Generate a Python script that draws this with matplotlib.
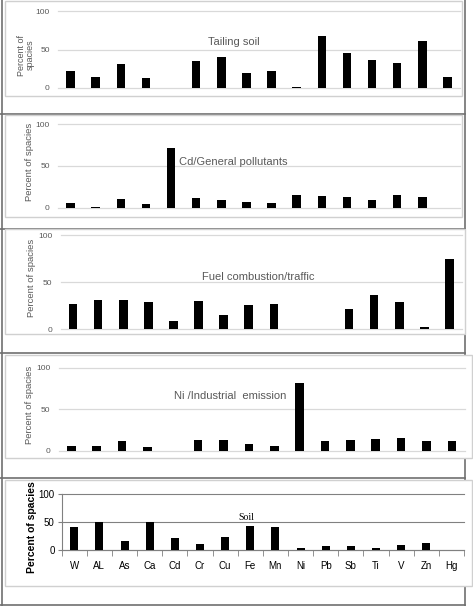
from matplotlib import pyplot as plt
from matplotlib.patches import Rectangle
from matplotlib.lines import Line2D

plt.rcParams['font.family'] = ['Liberation Sans', 'DejaVu Sans']

elements = ['W', 'AL', 'As', 'Ca', 'Cd', 'Cr', 'Cu', 'Fe', 'Mn',
            'Ni', 'Pb', 'Sb', 'Ti', 'V', 'Zn', 'Hg']

tailing_soil = [22, 14, 31.5, 13, 0, 35, 40, 19.5, 22, 1.3, 67, 46, 37, 32.5, 61, 14]
general_pollutants = [5.6, 0.8, 10, 4.8, 71.6, 11.6, 9.2, 6.4, 5.6, 14.8, 13.6, 12.8, 9.2, 14.8, 12.8, 0]
fuel_traffic = [27, 30.9, 30.9, 28.7, 8.5, 30.1, 15.2, 25.5, 27, 0, 0, 21.6, 36.5, 29, 2.5, 75.2]
industrial = [5.6, 5.2, 12, 4, 0, 12.9, 12.9, 7.6, 5.2, 81, 12, 13.3, 13.7, 15.7, 11.2, 12]
soil = [40.7, 50.3, 16.8, 50.3, 21, 11.4, 24, 43, 42, 3.6, 7.8, 7.2, 4.2, 9, 13.2, 0]

W, H = 473, 606
fig = plt.figure(figsize=(W / 100, H / 100), dpi=100)


def px_rect(x0, y0, x1, y1):
    """Pixel box (top-left origin) -> figure fraction rect."""
    return [x0 / W, 1 - y1 / H, (x1 - x0) / W, (y1 - y0) / H]


def fig_line(xs, ys, color='#707070', lw=1.2):
    fig.add_artist(Line2D([x / W for x in xs], [1 - y / H for y in ys],
                          color=color, lw=lw, transform=fig.transFigure, zorder=-2))


def chart_area(x0, y0, x1, y1):
    fig.add_artist(Rectangle((x0 / W, 1 - y1 / H), (x1 - x0) / W, (y1 - y0) / H,
                             facecolor='white', edgecolor='#d0d0d0', lw=1.0,
                             transform=fig.transFigure, zorder=-1))


def side_label(px, py, text, **kw):
    fig.text(px / W, 1 - py / H, text, rotation=90, ha='center', va='center',
             multialignment='center', **kw)


# table cell borders behind the charts
fig_line([1.5, 1.5], [0, 606])
fig_line([465, 465], [0, 606])
for y in [114, 229, 353, 478, 605]:
    fig_line([0, 465], [y, y])

# chart areas
boxes = [(5, 1, 462, 96), (5, 115, 462, 217), (5, 229, 465, 334),
         (5, 355, 472, 458), (5, 480, 472, 586)]
for b in boxes:
    chart_area(*b)

x = list(range(len(elements)))
gray = '#595959'


def light_panel(rect, values, title, tx, ty, ha='center'):
    ax = fig.add_axes(px_rect(*rect))
    ax.set_facecolor('none')
    ax.bar(x, values, width=0.34, color='black', zorder=3)
    ax.set_xlim(-0.5, 15.5)
    ax.set_ylim(0, 100)
    ax.set_yticks([0, 50, 100])
    ax.set_xticks([])
    ax.tick_params(axis='y', length=0, pad=6, labelsize=6, labelcolor=gray)
    for s in ax.spines.values():
        s.set_visible(False)
    ax.grid(axis='y', color='#d9d9d9', lw=0.9, zorder=0)
    for gl in ax.get_ygridlines():
        gl.set_clip_on(False)
    ax.text(tx, ty, title, ha=ha, va='center', fontsize=8, color=gray)
    return ax


light_panel((58, 11, 460, 88), tailing_soil, 'Tailing soil', 6.5, 60)
light_panel((58, 124.3, 460, 207.7), general_pollutants,
            'Cd/General pollutants', 4.3, 55, ha='left')
light_panel((60.5, 235.3, 462, 329.3), fuel_traffic,
            'Fuel combustion/traffic', 7.4, 55.6)
light_panel((58.6, 367.7, 464.6, 450.7), industrial,
            'Ni /Industrial  emission', 6.25, 66)

side_label(26, 55, 'Percent of\nspacies', fontsize=6.5, color=gray, linespacing=0.95)
side_label(29, 162, 'Percent of spacies', fontsize=6.8, color=gray)
side_label(31, 278, 'Percent of spacies', fontsize=6.8, color=gray)
side_label(29, 405, 'Percent of spacies', fontsize=6.8, color=gray)
side_label(32, 527, 'Percent of spacies', fontsize=7.5, fontweight='bold')

# bottom panel, older style with axes and category labels
ax = fig.add_axes(px_rect(61.7, 494.3, 464, 550))
ax.set_facecolor('none')
ax.bar(x, soil, width=0.32, color='black', zorder=3)
ax.set_xlim(-0.5, 15.5)
ax.set_ylim(0, 100)
ax.set_yticks([0, 50, 100])
ax.set_xticks(x)
ax.set_xticklabels(elements)
ax.set_xticks([i - 0.5 for i in range(len(elements) + 1)], minor=True)
ax.tick_params(axis='x', which='major', length=0, pad=8, labelsize=7)
ax.tick_params(axis='x', which='minor', length=4, color='#808080')
ax.tick_params(axis='y', length=3, color='#808080', labelsize=7, pad=2)
for side in ['top', 'right']:
    ax.spines[side].set_visible(False)
for side in ['left', 'bottom']:
    ax.spines[side].set_color('#808080')
ax.grid(axis='y', color='#808080', lw=0.8, zorder=0)
for gl in ax.get_ygridlines():
    gl.set_clip_on(False)
ax.text(6.83, 59, 'Soil', ha='center', va='center', fontsize=7,
        family=['Liberation Serif', 'DejaVu Serif'])

fig.savefig('out.png', dpi=100)
